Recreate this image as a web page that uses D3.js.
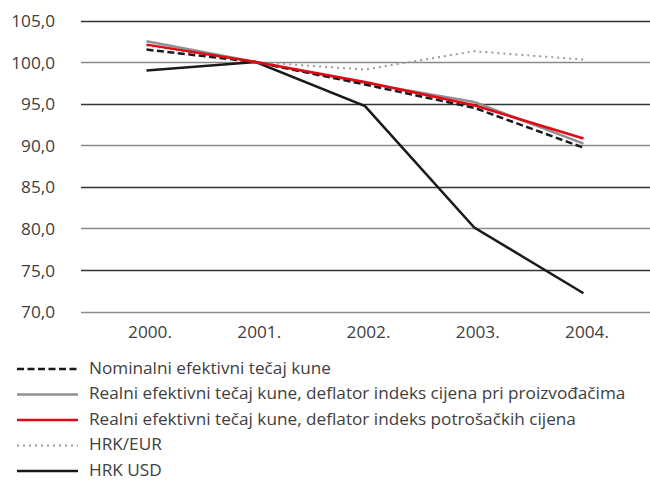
<!DOCTYPE html>
<html><head><meta charset="utf-8">
<script src="https://cdn.jsdelivr.net/npm/d3@7"></script>
<style>body{margin:0;background:#fff}svg{display:block}text{font-family:"Open Sans",sans-serif;fill:#404040;font-weight:400}</style>
</head><body><svg id="c" width="650" height="481"></svg>
<script>
const years = ["2000.","2001.","2002.","2003.","2004."];
const yTicks = [70,75,80,85,90,95,100,105];
const nominal = [101.5,100.0,97.3,94.5,89.7];
const realPPI = [102.5,100.0,97.5,95.2,90.2];
const realCPI = [102.1,100.0,97.6,94.8,90.8];
const hrkEur = [102.0,100.0,99.1,101.3,100.3];
const hrkUsd = [99.0,100.0,94.7,80.1,72.2];
const seriesNames = ["Nominalni efektivni tečaj kune","Realni efektivni tečaj kune, deflator indeks cijena pri proizvođačima","Realni efektivni tečaj kune, deflator indeks potrošačkih cijena","HRK/EUR","HRK USD"];

const styles = [
 {color:"#1a1a1a",w:2.5,dash:"7,3.5"},
 {color:"#909090",w:2.5,dash:null},
 {color:"#e30613",w:2.5,dash:null},
 {color:"#9a9a9a",w:2,dash:"2,4"},
 {color:"#1a1a1a",w:2.5,dash:null}
];
const data = [nominal,realPPI,realCPI,hrkEur,hrkUsd];
const svg = d3.select("#c");
const x = d3.scalePoint().domain(years).range([146.5,583.5]);
const y = d3.scaleLinear().domain([70,105]).range([311.5,20.5]);
const FS = 17.2;

svg.append("g").selectAll("line").data(yTicks).join("line")
 .attr("x1",81).attr("x2",650).attr("y1",d=>Math.round(y(d))+0.5).attr("y2",d=>Math.round(y(d))+0.5)
 .attr("stroke",d=>(d%10===0)?"#8a8a8a":"#333").attr("stroke-width",1.3);

const yAxis = d3.axisLeft(y).tickValues(yTicks).tickFormat(d=>d3.format(".1f")(d).replace(".",",")).tickSize(0).tickPadding(0);
const ga = svg.append("g").attr("transform","translate(55,0)").call(yAxis);
ga.select(".domain").remove();
ga.selectAll("text").attr("font-size",FS).attr("font-family","Open Sans, sans-serif").attr("fill","#404040").attr("dy","0.36em");

const xAxis = d3.axisBottom(x).tickSize(0).tickPadding(0);
const gx = svg.append("g").attr("transform","translate(3,338)").call(xAxis);
gx.select(".domain").remove();
gx.selectAll("text").attr("font-size",FS).attr("font-family","Open Sans, sans-serif").attr("fill","#404040").attr("y",0).attr("dy",0);

const line = d3.line().x((d,i)=>x(years[i])).y(d=>y(d));
const order=[3,4,1,0,2];
order.forEach(k=>{
 svg.append("path").datum(data[k]).attr("d",line).attr("fill","none")
  .attr("stroke",styles[k].color).attr("stroke-width",styles[k].w)
  .attr("stroke-dasharray",styles[k].dash).attr("stroke-linejoin","miter");
});

const ly=[369,394.5,420,445.5,471];
seriesNames.forEach((n,k)=>{
 svg.append("line").attr("x1",17).attr("x2",78).attr("y1",ly[k]).attr("y2",ly[k])
  .attr("stroke",styles[k].color).attr("stroke-width",styles[k].w).attr("stroke-dasharray",styles[k].dash);
 svg.append("text").attr("x",89).attr("y",ly[k]+4.8).attr("font-size",FS).text(n);
});
</script></body></html>
